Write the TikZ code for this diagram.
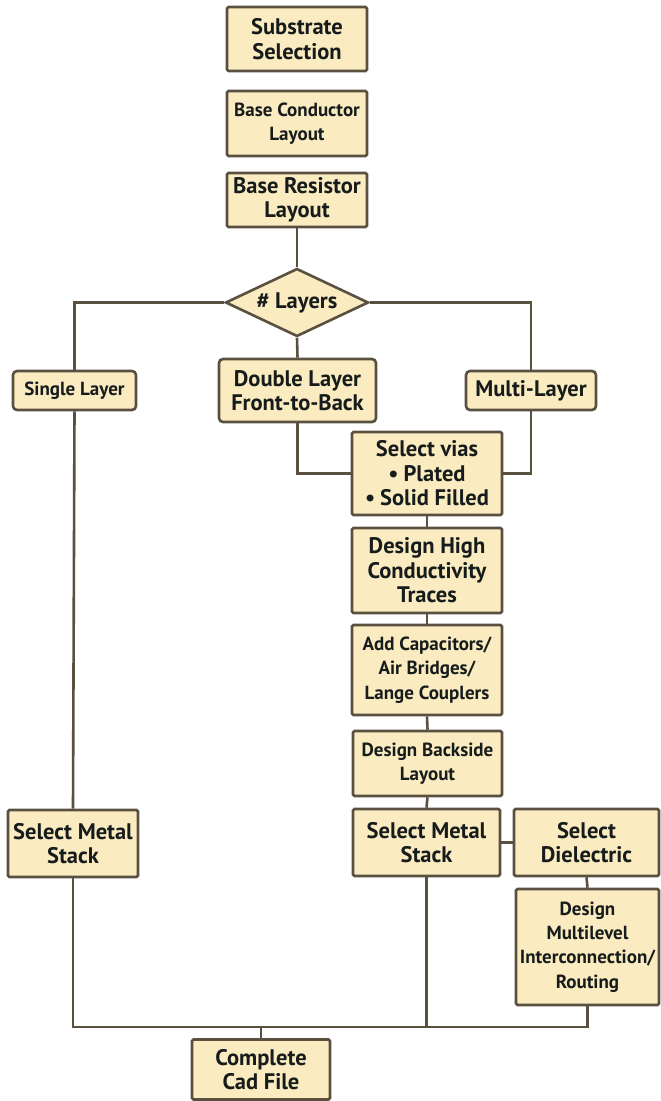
\documentclass[tikz,border=0pt]{standalone}
\usepackage{fontspec}
\usetikzlibrary{shapes.geometric}
\newfontfamily\ptsans{PT Sans}
\definecolor{boxfill}{RGB}{251,235,192}
\definecolor{boxline}{RGB}{90,80,64}
\definecolor{txt}{RGB}{22,28,28}
\newcommand{\fsL}{\fontsize{22.5}{24.5}\selectfont}
\newcommand{\fsS}{\fontsize{19}{24.3}\selectfont}
\newcommand{\bul}{\textbullet\kern5pt}
\tikzset{
  box/.style={draw=boxline, fill=boxfill, line width=2.6pt, rounded corners=1.5pt,
    align=center, inner sep=0pt, text=txt, font=\ptsans\bfseries},
  layerbox/.style={box, rounded corners=4pt},
  decide/.style={draw=boxline, fill=boxfill, line width=2.6pt, diamond, aspect=2.1,
    inner sep=0pt, text=txt, font=\ptsans\bfseries},
  conn/.style={draw=boxline, line width=2.6pt},
}
\begin{document}
\begin{tikzpicture}[x=1pt,y=-1pt]
\useasboundingbox (0,0) rectangle (661,1101);
% nodes
\node[box, minimum width=140pt, minimum height=64pt, font=\ptsans\bfseries\fsL] (sub) at (297,39) {Substrate\\Selection};
\node[box, minimum width=140pt, minimum height=65pt, font=\ptsans\bfseries\fsS] (bcond) at (297,123.5) {Base Conductor\\Layout};
\node[box, minimum width=140pt, minimum height=54pt, font=\ptsans\bfseries\fsL] (bres) at (297,200) {Base Resistor\\Layout};
\node[decide, minimum width=143pt, minimum height=68pt, font=\ptsans\bfseries\fsL] (lay) at (297,302.5) {\# Layers};
\node[layerbox, minimum width=123pt, minimum height=39pt, font=\ptsans\bfseries\fsS] (single) at (74.5,390.5) {Single Layer};
\node[layerbox, minimum width=157pt, minimum height=63pt, font=\ptsans\bfseries\fsL] (double) at (297.5,390.5) {Double Layer\\Front-to-Back};
\node[layerbox, minimum width=130pt, minimum height=39pt, font=\ptsans\bfseries\fsL] (multi) at (531,390.5) {Multi-Layer};
\node[box, minimum width=150pt, minimum height=83pt, font=\ptsans\bfseries\fsL] (vias) at (427,473.5) {Select vias\\\bul Plated\\\bul Solid Filled};
\node[box, minimum width=150pt, minimum height=85pt, font=\ptsans\bfseries\fsL] (high) at (427,570.5) {Design High\\Conductivity\\Traces};
\node[box, minimum width=150pt, minimum height=90pt, font=\ptsans\bfseries\fsS] (cap) at (427,670) {Add Capacitors/\\Air Bridges/\\Lange Couplers};
\node[box, minimum width=149pt, minimum height=65pt, font=\ptsans\bfseries\fsS] (back) at (427.5,763.5) {Design Backside\\Layout};
\node[box, minimum width=147pt, minimum height=67pt, font=\ptsans\bfseries\fsL] (msR) at (426.5,842.5) {Select Metal\\Stack};
\node[box, minimum width=145pt, minimum height=67pt, font=\ptsans\bfseries\fsL] (diel) at (586.5,842.5) {Select\\Dielectric};
\node[box, minimum width=143pt, minimum height=116pt, font=\ptsans\bfseries\fsS] (mlev) at (587.5,947) {Design\\Multilevel\\Interconnection/\\Routing};
\node[box, minimum width=130pt, minimum height=67pt, font=\ptsans\bfseries\fsL] (msL) at (73,843.5) {Select Metal\\Stack};
\node[box, minimum width=138pt, minimum height=60pt, font=\ptsans\bfseries\fsL] (cad) at (261,1069.5) {Complete\\Cad File};
\coordinate (bot) at (0,1027);
% connectors
\draw[conn] (bres.south) -- (lay.north);
\draw[conn] (lay.west) -| (single.north);
\draw[conn] (lay.east) -| (multi.north);
\draw[conn] (lay.south) -- (double.north);
\draw[conn] (double.south) |- (vias.west);
\draw[conn] (multi.south) |- (vias.east);
\draw[conn] (vias.south) -- (high.north);
\draw[conn] (high.south) -- (cap.north);
\draw[conn] (cap.south) -- (back.north);
\draw[conn] (back.south) -- (msR.north);
\draw[conn] (msR.east) -- (diel.west);
\draw[conn] (diel.south) -- (mlev.north);
\draw[conn] (single.south) -- (msL.north);
\draw[conn] (msL.south) -- (msL.south |- bot) -- (mlev.south |- bot) -- (mlev.south);
\draw[conn] (msR.south) -- (msR.south |- bot);
\draw[conn] (cad.north) -- (cad.north |- bot);
\end{tikzpicture}
\end{document}
